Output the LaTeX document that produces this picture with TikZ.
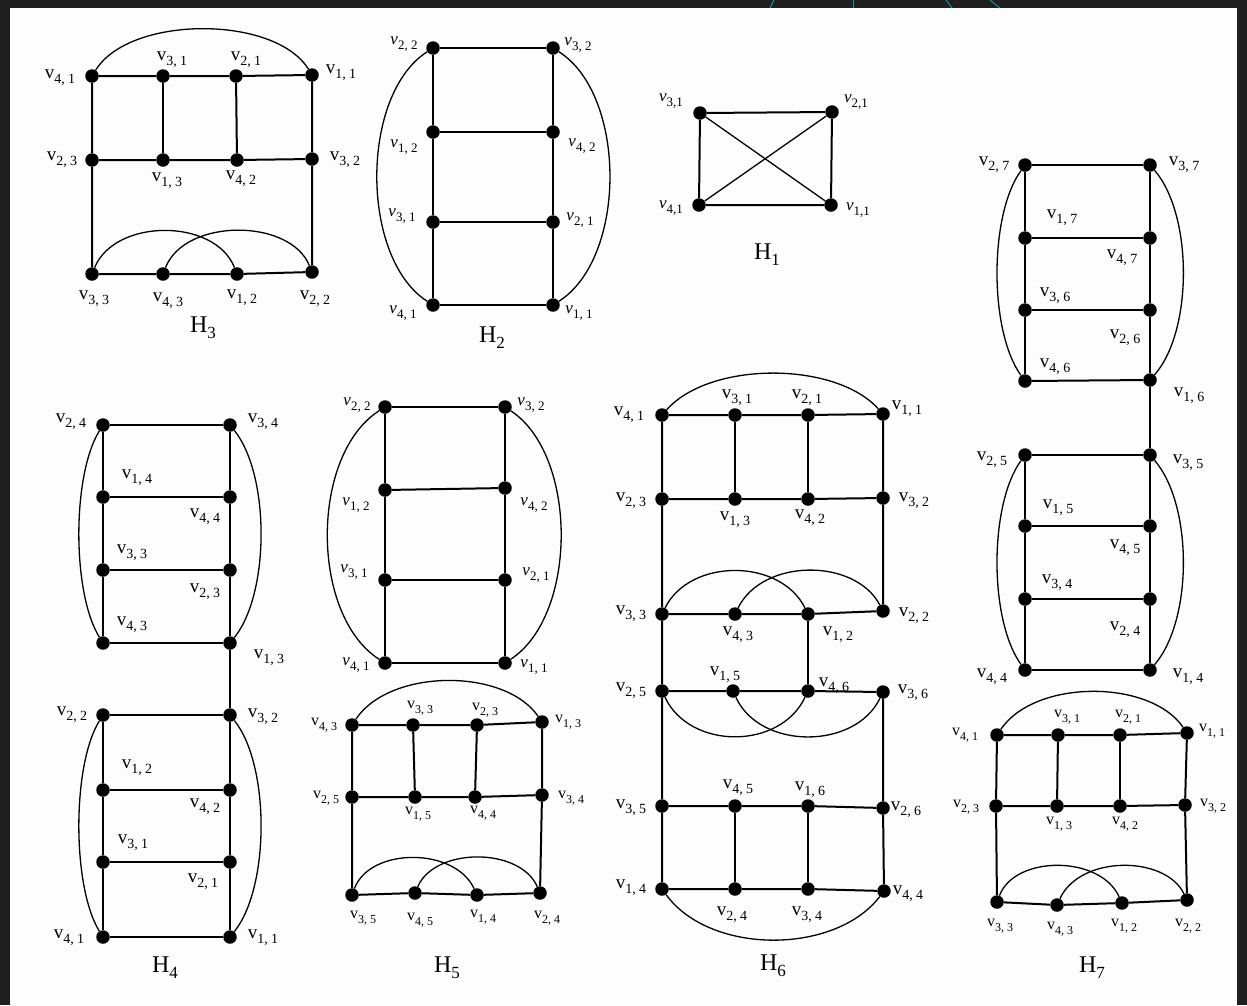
\documentclass[tikz,border=0pt]{standalone}
\usepackage{fontspec}
\setmainfont{Liberation Serif}
\definecolor{bgdark}{HTML}{1F1F1F}
\definecolor{paper}{HTML}{FDFDFD}
\definecolor{tealline}{HTML}{1E8FA0}
\newcommand\subsz{14}
\tikzset{
  vtx/.style={circle, fill=black, inner sep=0pt, minimum size=13.5pt},
  edge/.style={line width=2pt, black},
  arcline/.style={line width=1.3pt, black},
  lbl/.style={inner sep=0pt, font=\fontsize{19}{19}\selectfont\renewcommand\subsz{14}},
  mlbl/.style={inner sep=0pt, font=\fontsize{17}{17}\selectfont\itshape\renewcommand\subsz{13}},
  slbl/.style={inner sep=0pt, font=\fontsize{16}{16}\selectfont\renewcommand\subsz{12}},
  captxt/.style={inner sep=0pt, font=\fontsize{24}{24}\selectfont},
  deco/.style={line width=1pt, tealline}
}
\newcommand\mkv[3]{\node[vtx] (#1) at (#2,#3) {};}
\newcommand\mkl[5][lbl]{\node[#1] (l#2) at (#3,#4) {v\raisebox{-0.28em}{\upshape\fontsize{\subsz}{\subsz}\selectfont #5}};}
\newcommand\capsub[1]{\raisebox{-0.25em}{\fontsize{17}{17}\selectfont #1}}
\begin{document}
\begin{tikzpicture}[x=1pt,y=-1pt]
\useasboundingbox (0,0) rectangle (1247,1005);
\fill[bgdark] (0,0) rectangle (1247,1005);
\fill[paper] (10,8) rectangle (1237,1005);
% decorative teal strokes in the top band
\draw[deco] (770,8) -- (774,0);
\draw[deco] (853,0) -- (853,8);
\draw[deco] (946,0) -- (952,8);
\draw[deco] (990,0) -- (1000,8);

% ================= H3 =================
\mkv{a41}{92}{76} \mkv{a31}{163}{76} \mkv{a21}{236}{76} \mkv{a11}{312}{75}
\mkv{a23}{92}{160} \mkv{a13}{163}{160} \mkv{a42}{237}{160} \mkv{a32}{312}{159}
\mkv{a33}{92}{274} \mkv{a43}{163}{274} \mkv{a12}{237}{274} \mkv{a22}{312}{272}
\mkl{a41}{60}{78}{4, 1} \mkl{a31}{172}{60}{3, 1} \mkl{a21}{246}{60}{2, 1} \mkl{a11}{341}{73}{1, 1}
\mkl{a23}{62}{160}{2, 3} \mkl{a13}{167}{181}{1, 3} \mkl{a42}{241}{179}{4, 2} \mkl{a32}{345}{160}{3, 2}
\mkl{a33}{94}{299}{3, 3} \mkl{a43}{168}{301}{4, 3} \mkl{a12}{242}{298}{1, 2} \mkl{a22}{315}{299}{2, 2}
\node[captxt] (capH3) at (203,328) {H\capsub{3}};
\draw[edge] (a41)--(a31)--(a21)--(a11)--(a32)--(a22)--(a12)--(a43)--(a33)--(a23)--(a41);
\draw[edge] (a23)--(a13)--(a42)--(a32);
\draw[edge] (a31)--(a13);
\draw[edge] (a21)--(a42);
\draw[arcline] (a41) .. controls (130,15) and (275,15) .. (a11);
\draw[arcline] (a33) .. controls (115,218) and (215,218) .. (a12);
\draw[arcline] (a43) .. controls (185,218) and (290,218) .. (a22);

% ================= H2 =================
\mkv{b22}{433}{48} \mkv{b32}{553}{48}
\mkv{b12}{433}{132} \mkv{b42}{553}{132}
\mkv{b31}{433}{222} \mkv{b21}{553}{222}
\mkv{b41}{433}{305} \mkv{b11}{553}{305}
\mkl[mlbl]{b22}{404}{44}{2, 2} \mkl[mlbl]{b32}{578}{45}{3, 2}
\mkl[mlbl]{b12}{404}{147}{1, 2} \mkl[mlbl]{b42}{582}{146}{4, 2}
\mkl[mlbl]{b31}{402}{216}{3, 1} \mkl[mlbl]{b21}{580}{220}{2, 1}
\mkl[mlbl]{b41}{403}{313}{4, 1} \mkl[mlbl]{b11}{579}{313}{1, 1}
\node[captxt] (capH2) at (492,338) {H\capsub{2}};
\draw[edge] (b22)--(b12)--(b31)--(b41)--(b11)--(b21)--(b42)--(b32)--(b22);
\draw[edge] (b12)--(b42);
\draw[edge] (b31)--(b21);
\draw[arcline] (b22) .. controls (360,95) and (360,258) .. (b41);
\draw[arcline] (b32) .. controls (627,95) and (627,258) .. (b11);

% ================= H1 =================
\mkv{c31}{700}{113} \mkv{c21}{832}{112}
\mkv{c41}{699}{205} \mkv{c11}{831}{205}
\mkl[mlbl]{c31}{671}{101}{3,1} \mkl[mlbl]{c21}{856}{102}{2,1}
\mkl[mlbl]{c41}{671}{208}{4,1} \mkl[mlbl]{c11}{858}{210}{1,1}
\node[captxt] (capH1) at (767,255) {H\capsub{1}};
\draw[edge] (c31)--(c21)--(c11)--(c41)--(c31);
\draw[arcline] (c31)--(c11);
\draw[arcline] (c21)--(c41);

% ================= H7 ladder (top right) =================
\mkv{d27}{1025}{165} \mkv{d37}{1150}{165}
\mkv{d17}{1025}{238} \mkv{d47}{1150}{238}
\mkv{d36}{1025}{310} \mkv{d26}{1150}{310}
\mkv{d46}{1025}{381} \mkv{d16}{1150}{380}
\mkv{d25}{1025}{455} \mkv{d35}{1150}{455}
\mkv{d15}{1025}{526} \mkv{d45}{1150}{526}
\mkv{d34}{1025}{599} \mkv{d24}{1150}{599}
\mkv{d44}{1025}{670} \mkv{d14}{1150}{670}
\mkl{d27}{994}{165}{2, 7} \mkl{d37}{1184}{165}{3, 7}
\mkl{d17}{1062}{218}{1, 7} \mkl{d47}{1122}{258}{4, 7}
\mkl{d36}{1055}{296}{3, 6} \mkl{d26}{1125}{338}{2, 6}
\mkl{d46}{1055}{367}{4, 6} \mkl{d16}{1189}{396}{1, 6}
\mkl{d25}{992}{460}{2, 5} \mkl{d35}{1188}{463}{3, 5}
\mkl{d15}{1058}{508}{1, 5} \mkl{d45}{1125}{548}{4, 5}
\mkl{d34}{1057}{583}{3, 4} \mkl{d24}{1125}{630}{2, 4}
\mkl{d44}{992}{677}{4, 4} \mkl{d14}{1188}{677}{1, 4}
\draw[edge] (d27)--(d17)--(d36)--(d46);
\draw[edge] (d37)--(d47)--(d26)--(d16)--(d35)--(d45)--(d24)--(d14);
\draw[edge] (d25)--(d15)--(d34)--(d44);
\draw[edge] (d27)--(d37); \draw[edge] (d17)--(d47); \draw[edge] (d36)--(d26); \draw[edge] (d46)--(d16);
\draw[edge] (d25)--(d35); \draw[edge] (d15)--(d45); \draw[edge] (d34)--(d24); \draw[edge] (d44)--(d14);
\draw[arcline] (d27) .. controls (989,215) and (989,331) .. (d46);
\draw[arcline] (d37) .. controls (1193,215) and (1193,331) .. (d16);
\draw[arcline] (d25) .. controls (989,505) and (989,620) .. (d44);
\draw[arcline] (d35) .. controls (1193,505) and (1193,620) .. (d14);

% ================= H7 bottom =================
\mkv{e41}{997}{735} \mkv{e31}{1058}{735} \mkv{e21}{1120}{735} \mkv{e11}{1187}{733}
\mkv{e23}{996}{806} \mkv{e13}{1057}{806} \mkv{e42}{1120}{806} \mkv{e32}{1185}{805}
\mkv{e33}{997}{902} \mkv{e43}{1057}{905} \mkv{e12}{1122}{903} \mkv{e22}{1187}{900}
\mkl[slbl]{e41}{965}{735}{4, 1} \mkl[slbl]{e31}{1067}{717}{3, 1} \mkl[slbl]{e21}{1128}{717}{2, 1} \mkl[slbl]{e11}{1212}{731}{1, 1}
\mkl[slbl]{e23}{966}{807}{2, 3} \mkl[slbl]{e13}{1059}{824}{1, 3} \mkl[slbl]{e42}{1125}{824}{4, 2} \mkl[slbl]{e32}{1213}{806}{3, 2}
\mkl[slbl]{e33}{1000}{926}{3, 3} \mkl[slbl]{e43}{1060}{929}{4, 3} \mkl[slbl]{e12}{1124}{926}{1, 2} \mkl[slbl]{e22}{1188}{926}{2, 2}
\node[captxt] (capH7) at (1092,968) {H\capsub{7}};
\draw[edge] (e41)--(e31)--(e21)--(e11)--(e32)--(e22)--(e12)--(e43)--(e33)--(e23)--(e41);
\draw[edge] (e23)--(e13)--(e42)--(e32);
\draw[edge] (e31)--(e13);
\draw[edge] (e21)--(e42);
\draw[arcline] (e41) .. controls (1035,679) and (1150,679) .. (e11);
\draw[arcline] (e33) .. controls (1015,855) and (1100,855) .. (e12);
\draw[arcline] (e43) .. controls (1080,855) and (1165,855) .. (e22);

% ================= H4 =================
\mkv{f24}{103}{425} \mkv{f34}{230}{425}
\mkv{f14}{103}{497} \mkv{f44}{230}{497}
\mkv{f33}{103}{570} \mkv{f23}{230}{570}
\mkv{f43}{103}{643} \mkv{f13}{230}{643}
\mkv{f22}{103}{715} \mkv{f32}{230}{715}
\mkv{f12}{103}{790} \mkv{f42}{230}{790}
\mkv{f31}{103}{862} \mkv{f21}{230}{862}
\mkv{f41}{103}{937} \mkv{f11}{230}{937}
\mkl{f24}{71}{422}{2, 4} \mkl{f34}{263}{422}{3, 4}
\mkl{f14}{137}{478}{1, 4} \mkl{f44}{205}{517}{4, 4}
\mkl{f33}{132}{553}{3, 3} \mkl{f23}{205}{592}{2, 3}
\mkl{f43}{132}{625}{4, 3} \mkl{f13}{269}{658}{1, 3}
\mkl{f22}{72}{715}{2, 2} \mkl{f32}{263}{717}{3, 2}
\mkl{f12}{137}{768}{1, 2} \mkl{f42}{205}{807}{4, 2}
\mkl{f31}{133}{843}{3, 1} \mkl{f21}{203}{882}{2, 1}
\mkl{f41}{69}{938}{4, 1} \mkl{f11}{263}{938}{1, 1}
\node[captxt] (capH4) at (165,968) {H\capsub{4}};
\draw[edge] (f24)--(f14)--(f33)--(f43);
\draw[edge] (f34)--(f44)--(f23)--(f13)--(f32)--(f42)--(f21)--(f11);
\draw[edge] (f22)--(f12)--(f31)--(f41);
\draw[edge] (f24)--(f34); \draw[edge] (f14)--(f44); \draw[edge] (f33)--(f23); \draw[edge] (f43)--(f13);
\draw[edge] (f22)--(f32); \draw[edge] (f12)--(f42); \draw[edge] (f31)--(f21); \draw[edge] (f41)--(f11);
\draw[arcline] (f24) .. controls (72,475) and (72,593) .. (f43);
\draw[arcline] (f34) .. controls (270,475) and (270,593) .. (f13);
\draw[arcline] (f22) .. controls (72,765) and (72,887) .. (f41);
\draw[arcline] (f32) .. controls (270,765) and (270,887) .. (f11);

% ================= H5 top =================
\mkv{g22}{385}{407} \mkv{g32}{505}{407}
\mkv{g12}{385}{490} \mkv{g42}{505}{488}
\mkv{g31}{385}{580} \mkv{g21}{505}{580}
\mkv{g41}{385}{663} \mkv{g11}{505}{663}
\mkl[mlbl]{g22}{357}{405}{2, 2} \mkl[mlbl]{g32}{531}{405}{3, 2}
\mkl[mlbl]{g12}{356}{505}{1, 2} \mkl[mlbl]{g42}{534}{505}{4, 2}
\mkl[mlbl]{g31}{354}{572}{3, 1} \mkl[mlbl]{g21}{536}{575}{2, 1}
\mkl[mlbl]{g41}{356}{665}{4, 1} \mkl[mlbl]{g11}{534}{667}{1, 1}
\draw[edge] (g22)--(g12)--(g31)--(g41)--(g11)--(g21)--(g42)--(g32)--(g22);
\draw[edge] (g12)--(g42);
\draw[edge] (g31)--(g21);
\draw[arcline] (g22) .. controls (310,455) and (310,615) .. (g41);
\draw[arcline] (g32) .. controls (578,455) and (578,615) .. (g11);

% ================= H5 bottom =================
\mkv{h43}{352}{725} \mkv{h33}{413}{725} \mkv{h23}{477}{725} \mkv{h13}{542}{722}
\mkv{h25}{352}{797} \mkv{h15}{415}{797} \mkv{h44}{475}{797} \mkv{h34}{542}{795}
\mkv{h35}{352}{895} \mkv{h45}{415}{893} \mkv{h14}{477}{895} \mkv{h24}{540}{893}
\mkl[slbl]{h43}{324}{725}{4, 3} \mkl[slbl]{h33}{420}{708}{3, 3} \mkl[slbl]{h23}{485}{710}{2, 3} \mkl[slbl]{h13}{568}{722}{1, 3}
\mkl[slbl]{h25}{326}{798}{2, 5} \mkl[slbl]{h15}{418}{814}{1, 5} \mkl[slbl]{h44}{483}{813}{4, 4} \mkl[slbl]{h34}{571}{798}{3, 4}
\mkl[slbl]{h35}{363}{918}{3, 5} \mkl[slbl]{h45}{420}{920}{4, 5} \mkl[slbl]{h14}{483}{917}{1, 4} \mkl[slbl]{h24}{547}{918}{2, 4}
\node[captxt] (capH5) at (447,968) {H\capsub{5}};
\draw[edge] (h43)--(h33)--(h23)--(h13)--(h34)--(h24)--(h14)--(h45)--(h35)--(h25)--(h43);
\draw[edge] (h25)--(h15)--(h44)--(h34);
\draw[edge] (h33)--(h15);
\draw[edge] (h23)--(h44);
\draw[arcline] (h43) .. controls (390,668) and (505,668) .. (h13);
\draw[arcline] (h35) .. controls (370,847) and (455,847) .. (h14);
\draw[arcline] (h45) .. controls (435,847) and (520,847) .. (h24);

% ================= H6 =================
\mkv{k41}{662}{415} \mkv{k31}{735}{415} \mkv{k21}{808}{415} \mkv{k11}{883}{414}
\mkv{k23}{662}{499} \mkv{k13}{735}{499} \mkv{k42}{808}{499} \mkv{k32}{883}{498}
\mkv{k33}{662}{614} \mkv{k43}{735}{614} \mkv{k12}{808}{614} \mkv{k22}{883}{611}
\mkv{k25}{662}{691} \mkv{k15}{733}{691} \mkv{k46}{808}{691} \mkv{k36}{883}{692}
\mkv{k35}{662}{806} \mkv{k45}{735}{806} \mkv{k16}{808}{806} \mkv{k26}{883}{808}
\mkv{k14}{662}{889} \mkv{k24}{735}{889} \mkv{k34}{808}{889} \mkv{k44}{884}{891}
\mkl{k41}{629}{415}{4, 1} \mkl{k31}{737}{398}{3, 1} \mkl{k21}{807}{398}{2, 1} \mkl{k11}{907}{409}{1, 1}
\mkl{k23}{631}{501}{2, 3} \mkl{k13}{735}{520}{1, 3} \mkl{k42}{810}{518}{4, 2} \mkl{k32}{914}{501}{3, 2}
\mkl{k33}{631}{614}{3, 3} \mkl{k43}{738}{635}{4, 3} \mkl{k12}{838}{635}{1, 2} \mkl{k22}{914}{616}{2, 2}
\mkl{k25}{631}{691}{2, 5} \mkl{k15}{725}{675}{1, 5} \mkl{k46}{834}{686}{4, 6} \mkl{k36}{913}{693}{3, 6}
\mkl{k35}{631}{808}{3, 5} \mkl{k45}{738}{788}{4, 5} \mkl{k16}{810}{790}{1, 6} \mkl{k26}{906}{810}{2, 6}
\mkl{k14}{631}{888}{1, 4} \mkl{k24}{732}{915}{2, 4} \mkl{k34}{807}{915}{3, 4} \mkl{k44}{908}{894}{4, 4}
\node[captxt] (capH6) at (773,966) {H\capsub{6}};
\draw[edge] (k41)--(k31)--(k21)--(k11)--(k32)--(k22);
\draw[edge] (k41)--(k23)--(k33)--(k25)--(k35)--(k14)--(k24)--(k34)--(k44)--(k26)--(k36);
\draw[edge] (k23)--(k13)--(k42)--(k32);
\draw[edge] (k31)--(k13);
\draw[edge] (k21)--(k42);
\draw[edge] (k33)--(k43)--(k12)--(k22);
\draw[edge] (k12)--(k46);
\draw[edge] (k25)--(k15)--(k46)--(k36);
\draw[edge] (k35)--(k45)--(k16)--(k26);
\draw[edge] (k45)--(k24);
\draw[edge] (k16)--(k34);
\draw[arcline] (k41) .. controls (710,361) and (835,361) .. (k11);
\draw[arcline] (k33) .. controls (690,558) and (780,558) .. (k12);
\draw[arcline] (k43) .. controls (763,558) and (855,558) .. (k22);
\draw[arcline] (k25) .. controls (690,750) and (780,750) .. (k46);
\draw[arcline] (k15) .. controls (760,750) and (855,750) .. (k36);
\draw[arcline] (k14) .. controls (710,955) and (835,955) .. (k44);
\end{tikzpicture}
\end{document}
